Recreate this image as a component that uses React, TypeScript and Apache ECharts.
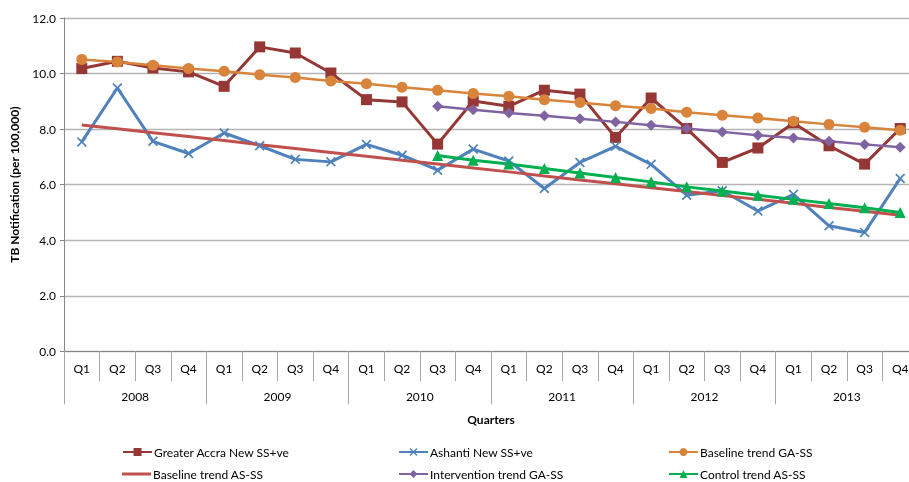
import React, { useEffect, useRef } from "react";
import * as echarts from "echarts";

const quarters = ["Q1","Q2","Q3","Q4","Q1","Q2","Q3","Q4","Q1","Q2","Q3","Q4","Q1","Q2","Q3","Q4","Q1","Q2","Q3","Q4","Q1","Q2","Q3","Q4"];
const years = ["2008","2009","2010","2011","2012","2013"];
const yTicks = { min: 0, max: 12, interval: 2 };

const greaterAccra = [10.18,10.44,10.2,10.06,9.54,10.96,10.74,10.02,9.06,8.98,7.46,9.01,8.82,9.4,9.26,7.7,9.12,8.02,6.8,7.32,8.22,7.4,6.74,8.02];
const ashanti = [7.54,9.48,7.56,7.12,7.86,7.4,6.91,6.82,7.45,7.06,6.52,7.28,6.85,5.86,6.8,7.38,6.73,5.62,5.78,5.05,5.65,4.52,4.28,6.22];
const baselineGA = [10.51,10.42,10.3,10.18,10.08,9.96,9.86,9.73,9.63,9.51,9.4,9.28,9.18,9.06,8.96,8.84,8.74,8.61,8.5,8.4,8.28,8.17,8.07,7.96];
const baselineAS = [8.15,8.01,7.87,7.73,7.59,7.44,7.3,7.16,7.02,6.88,6.74,6.6,6.46,6.31,6.17,6.03,5.89,5.75,5.61,5.47,5.33,5.18,5.04,4.9];
const interventionGA = [null,null,null,null,null,null,null,null,null,null,8.82,8.7,8.58,8.48,8.37,8.26,8.14,8.02,7.9,7.78,7.68,7.56,7.45,7.35];
const controlAS = [null,null,null,null,null,null,null,null,null,null,7.05,6.88,6.74,6.58,6.42,6.26,6.1,5.92,5.77,5.62,5.47,5.32,5.17,5.0];

const names = ["Greater Accra New SS+ve","Ashanti New SS+ve","Baseline trend GA-SS","Baseline trend AS-SS","Intervention trend GA-SS","Control trend AS-SS"];

const FONT = "Lato";
const X_SYMBOL = "path://M0,1.2 L1.2,0 L5,3.8 L8.8,0 L10,1.2 L6.2,5 L10,8.8 L8.8,10 L5,6.2 L1.2,10 L0,8.8 L3.8,5 Z";

export default function App() {
  const ref = useRef<HTMLDivElement>(null);
  useEffect(() => {
    if (!ref.current) return;
    const chart = echarts.init(ref.current, null, { renderer: "svg" });
    const mk = (name: string, data: any[], color: string, symbol: string, size: number, width = 3) => ({
      name, type: "line", data, symbol, symbolSize: size, showSymbol: symbol !== "none",
      itemStyle: { color }, lineStyle: { color, width }, connectNulls: false, z: 3,
    });
    const legendPos = [
      [122, 446], [398, 446], [668, 446],
      [122, 468], [398, 468], [668, 468],
    ];
    chart.setOption({
      animation: false,
      grid: { left: 64, top: 18, width: 854, height: 333.3 },
      legend: names.map((n, i) => ({
        data: i === 3 ? [{ name: n, icon: "rect" }] : [n],
        left: legendPos[i][0], top: legendPos[i][1], padding: 0,
        itemWidth: 29, itemHeight: i === 3 ? 3 : 10, itemGap: 2,
        textStyle: { fontFamily: FONT, fontSize: 12, color: "#000", padding: [0, 0, 0, -3] },
      })),
      xAxis: [
        {
          type: "category", data: quarters, position: "bottom",
          axisLine: { show: true, lineStyle: { color: "#868686", width: 1 } },
          axisTick: { show: true, interval: 0, length: 30, lineStyle: { color: "#A6A6A6" } },
          axisLabel: { interval: 0, margin: 11, fontFamily: FONT, fontSize: 12, color: "#000" },
        },
        {
          type: "category", data: years, position: "bottom", gridIndex: 0,
          axisLine: { show: false },
          axisTick: { show: true, interval: 0, length: 53, lineStyle: { color: "#A6A6A6" } },
          axisLabel: { interval: 0, margin: 39, fontFamily: FONT, fontSize: 12, color: "#000" },
          name: "Quarters", nameLocation: "middle", nameGap: 62,
          nameTextStyle: { fontFamily: FONT, fontSize: 12, fontWeight: "bold", color: "#000" },
        },
      ],
      yAxis: {
        type: "value", min: yTicks.min, max: yTicks.max, interval: yTicks.interval,
        axisLine: { show: true, lineStyle: { color: "#868686" } },
        axisTick: { show: true, length: 4, lineStyle: { color: "#868686" } },
        splitLine: { lineStyle: { color: "#B4B4B4", width: 1.3 } },
        axisLabel: { formatter: (v: number) => v.toFixed(1), margin: 8, fontFamily: FONT, fontSize: 12, color: "#000" },
        name: "TB Notification (per 100,000)", nameLocation: "middle", nameGap: 44, nameRotate: 90,
        nameTextStyle: { fontFamily: FONT, fontSize: 12, fontWeight: "bold", color: "#000" },
      },
      series: [
        mk(names[0], greaterAccra, "#953735", "rect", 11),
        mk(names[1], ashanti, "#4F81BD", X_SYMBOL, 10),
        mk(names[2], baselineGA, "#D9843B", "circle", 11, 2.5),
        mk(names[3], baselineAS, "#C0504D", "none", 0),
        mk(names[4], interventionGA, "#8064A2", "diamond", 11, 2.5),
        mk(names[5], controlAS, "#00B050", "triangle", 11),
      ],
    });
    return () => chart.dispose();
  }, []);
  return <div ref={ref} style={{ position: "fixed", left: 0, top: 0, width: 920, height: 482 }} />;
}
